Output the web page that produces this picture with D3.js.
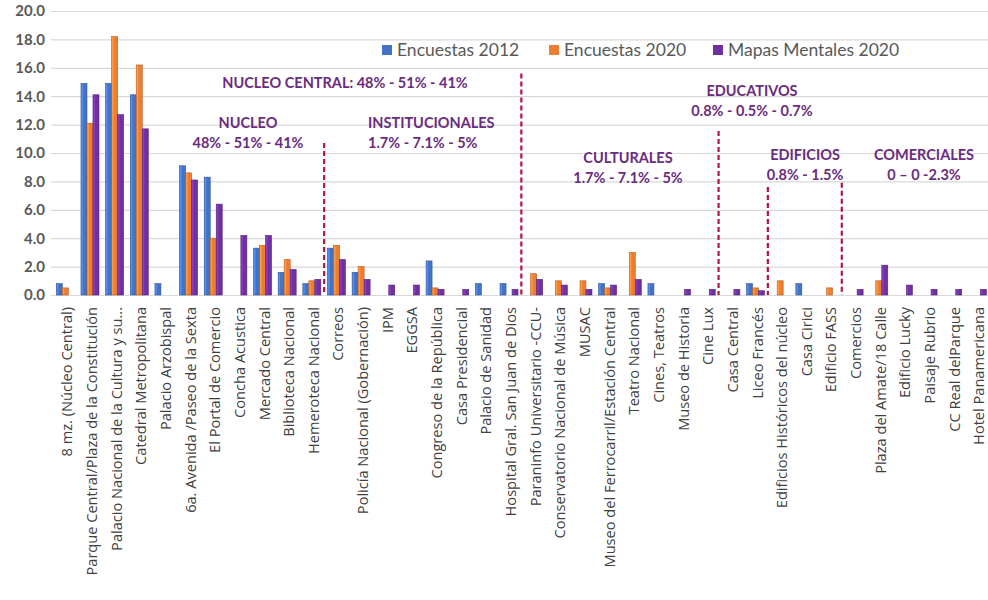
<!DOCTYPE html>
<html><head><meta charset="utf-8">
<script src="https://cdn.jsdelivr.net/npm/d3@7"></script>
<style>body{margin:0;background:#fff}svg{display:block}</style>
</head><body>
<svg id="c" width="988" height="600"></svg>
<script>
const categories = ["8 mz. (Núcleo Central)","Parque Central/Plaza de la Constitución","Palacio Nacional de la Cultura y su...","Catedral Metropolitana","Palacio Arzobispal","6a. Avenida /Paseo de la Sexta","El Portal de Comercio","Concha Acustica","Mercado Central","Biblioteca Nacional","Hemeroteca Nacional","Correos","Policía Nacional (Gobernación)","IPM","EGGSA","Congreso de la República","Casa Presidencial","Palacio de Sanidad","Hospital Gral. San Juan de Dios","Paraninfo Universitario -CCU-","Conservatorio Nacional de Música","MUSAC","Museo del Ferrocarril/Estación Central","Teatro Nacional","Cines, Teatros","Museo de Historia","Cine Lux","Casa Central","Liceo Francés","Edificios Históricos del núcleo","Casa Cirici","Edificio FASS","Comercios","Plaza del Amate/18 Calle","Edificio Lucky","Paisaje Rubrio","CC Real delParque","Hotel Panamericana"];
const encuestas2012 = [0.8,14.9,14.9,14.1,0.8,9.1,8.3,0,3.3,1.6,0.8,3.3,1.6,0,0,2.4,0,0.8,0.8,0,0,0,0.8,0,0.8,0,0,0,0.8,0,0.8,0,0,0,0,0,0,0];
const encuestas2020 = [0.5,12.1,18.2,16.2,0,8.6,4.0,0,3.5,2.5,1.0,3.5,2.0,0,0,0.5,0,0,0,1.5,1.0,1.0,0.5,3.0,0,0,0,0,0.5,1.0,0,0.5,0,1.0,0,0,0,0];
const mapasMentales2020 = [0,14.1,12.7,11.7,0,8.1,6.4,4.2,4.2,1.8,1.1,2.5,1.1,0.7,0.7,0.4,0.4,0,0.4,1.1,0.7,0.4,0.7,1.1,0,0.4,0.4,0.4,0.3,0,0,0,0.4,2.1,0.7,0.4,0.4,0.4];
const seriesNames = ["Encuestas 2012","Encuestas 2020","Mapas Mentales 2020"];
const seriesColors = ["#4472C4","#ED7D31","#7030A0"];
const yTicks = [0,2,4,6,8,10,12,14,16,18,20];
// group annotations: [boundary index, line top value]
const dividers = [[11,10.7],[19,15.6],[27,11.55],[29,7.6],[32,7.9]];
const annotations = [
  {lines:["NUCLEO CENTRAL: 48% - 51% - 41%"], x:345, y:88, anchor:"middle"},
  {lines:["NUCLEO","48% - 51% - 41%"], x:248, y:128, anchor:"middle"},
  {lines:["INSTITUCIONALES","1.7% - 7.1% - 5%"], x:368, y:128, anchor:"start"},
  {lines:["CULTURALES","1.7% - 7.1% - 5%"], x:628, y:163, anchor:"middle"},
  {lines:["EDUCATIVOS","0.8% - 0.5% - 0.7%"], x:752, y:96, anchor:"middle"},
  {lines:["EDIFICIOS","0.8% - 1.5%"], x:805, y:160, anchor:"middle"},
  {lines:["COMERCIALES","0 – 0 -2.3%"], x:924, y:160, anchor:"middle"}
];

const svg = d3.select("#c");
const mLeft = 53, mRight = 989.7, mTop = 11, mBottom = 295;
const x0 = d3.scaleBand().domain(categories).range([mLeft,mRight]).paddingInner(0.27).paddingOuter(0.135);
const x1 = d3.scaleBand().domain(seriesNames).range([0,x0.bandwidth()]);
const y = d3.scaleLinear().domain([0,20]).range([mBottom,mTop]);
const step = x0.step();

// gridlines
const yAxis = d3.axisLeft(y).tickValues(yTicks).tickFormat(d3.format(".1f")).tickSize(-(988-51)).tickPadding(6);
const ga = svg.append("g").attr("transform","translate(51,0)").call(yAxis);
ga.select(".domain").remove();
ga.selectAll(".tick line").attr("stroke","#d9d9d9").attr("stroke-width",1.2);
ga.selectAll(".tick text").attr("fill","#595959").style("font-family","Lato, 'Open Sans', sans-serif")
  .style("font-size","15px").style("font-weight","bold").attr("x",-6);

// bars
const data = categories.map((c,i)=>({c, v:[encuestas2012[i],encuestas2020[i],mapasMentales2020[i]]}));
const g = svg.append("g");
data.forEach(d=>{
  d.v.forEach((v,k)=>{
    if(!v) return;
    const bx = x0(d.c)+x1(seriesNames[k]);
    g.append("rect").attr("x",bx).attr("y",y(v)).attr("width",x1.bandwidth()).attr("height",y(0)-y(v))
      .attr("fill",seriesColors[k]).attr("stroke",d3.color(seriesColors[k]).darker(0.8)).attr("stroke-width",0.6);
    g.append("rect").attr("x",bx+0.5).attr("y",y(v)+0.5).attr("width",1.5).attr("height",Math.max(0,y(0)-y(v)-1))
      .attr("fill",d3.color(seriesColors[k]).brighter(0.6));
  });
});

// x labels
const xl = svg.append("g");
categories.forEach(c=>{
  const cx = x0(c)+x0.bandwidth()/2;
  xl.append("text").attr("transform",`translate(${cx+7},307) rotate(-90)`).attr("text-anchor","end")
    .attr("fill","#404040").style("font-family","'Open Sans', Lato, sans-serif").style("font-size","14.6px").text(c);
});

// dividers
dividers.forEach(([i,v])=>{
  const xx = mLeft + i*step;
  svg.append("line").attr("x1",xx).attr("x2",xx).attr("y1",y(v)).attr("y2",y(0))
    .attr("stroke","#B0173F").attr("stroke-width",2.2).attr("stroke-dasharray","5,3");
});

// annotations
annotations.forEach(a=>{
  a.lines.forEach((t,j)=>{
    svg.append("text").attr("x",a.x).attr("y",a.y+j*20).attr("text-anchor",a.anchor)
      .attr("fill","#6A2C7E").style("font-family","Lato, 'Open Sans', sans-serif").style("font-size","14.5px")
      .style("font-weight","bold").text(t);
  });
});

// legend
const legendX = [382,549,713];
seriesNames.forEach((s,k)=>{
  svg.append("rect").attr("x",legendX[k]).attr("y",45).attr("width",10).attr("height",10).attr("fill",seriesColors[k]);
  svg.append("text").attr("x",legendX[k]+15).attr("y",56).attr("fill","#595959")
    .style("font-family","Lato, 'Open Sans', sans-serif").style("font-size","17.5px").text(s);
});
</script>
</body></html>
